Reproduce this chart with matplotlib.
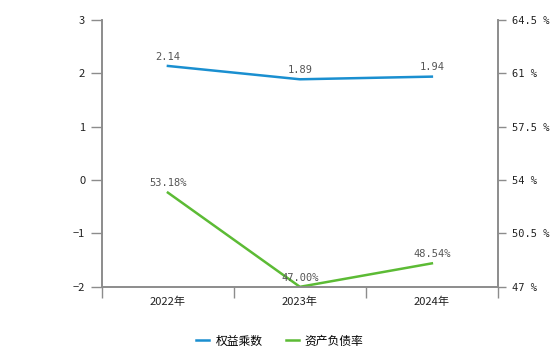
import matplotlib.pyplot as plt
from matplotlib.ticker import FixedLocator

plt.rcParams['font.family'] = ['Noto Sans CJK SC', 'DejaVu Sans']

years = ['2022年', '2023年', '2024年']
equity_mult = [2.14, 1.89, 1.94]
debt_ratio = [53.18, 47.00, 48.54]
left_ticks = [-2, -1, 0, 1, 2, 3]
right_ticks = [47, 50.5, 54, 57.5, 61, 64.5]

blue = '#1a8fd0'
green = '#5cbb35'
axis_grey = '#8c8c8c'

fig = plt.figure(figsize=(5.6, 3.46), dpi=100)
ax1 = fig.add_axes([0.182, 0.171, 0.707, 0.771])
ax2 = ax1.twinx()

x = list(range(len(years)))
l1, = ax1.plot(x, equity_mult, color=blue, lw=1.8, label='权益乘数')
l2, = ax2.plot(x, debt_ratio, color=green, lw=1.8, label='资产负债率')

ax1.set_xlim(-0.5, len(years) - 0.5)
ax1.set_ylim(-2, 3)
ax2.set_ylim(47, 64.5)
ax1.set_yticks(left_ticks)
ax1.set_yticklabels([str(t).replace('-', '\u2212') for t in left_ticks])
ax2.set_yticks(right_ticks)
ax2.set_yticklabels(['%g %%' % t for t in right_ticks], family='DejaVu Sans Mono')

ax1.set_xticks(x)
ax1.set_xticklabels(years)
ax1.xaxis.set_minor_locator(FixedLocator([i - 0.5 for i in range(len(years) + 1)]))
ax1.tick_params(axis='x', which='major', length=0, pad=7, labelsize=8, colors='#222')
ax1.tick_params(axis='x', which='minor', length=8, width=1, color=axis_grey)
ax1.tick_params(axis='y', length=8, width=1, color=axis_grey, labelsize=8, labelcolor='#222', pad=4)
ax2.tick_params(axis='y', length=6, width=1, color=axis_grey, labelsize=7.5, labelcolor='#222', pad=4)

for ax in (ax1, ax2):
    ax.spines['top'].set_visible(False)
    for s in ('left', 'right', 'bottom'):
        ax.spines[s].set_color(axis_grey)
        ax.spines[s].set_linewidth(1.2)

for xi, v in zip(x, equity_mult):
    ax1.annotate('%.2f' % v, (xi, v), xytext=(0, 3), textcoords='offset points',
                 ha='center', va='bottom', fontsize=7.5, color='#555',
                 family='DejaVu Sans Mono')
for xi, v in zip(x, debt_ratio):
    ax2.annotate('%.2f%%' % v, (xi, v), xytext=(0, 3), textcoords='offset points',
                 ha='center', va='bottom', fontsize=7.5, color='#555',
                 family='DejaVu Sans Mono')

fig.legend(handles=[l1, l2], loc='lower center', bbox_to_anchor=(0.5, -0.035),
           ncol=2, frameon=False, fontsize=8.5, handlelength=1.1,
           columnspacing=2.0, handletextpad=0.5)

fig.savefig('out.png', dpi=100)
